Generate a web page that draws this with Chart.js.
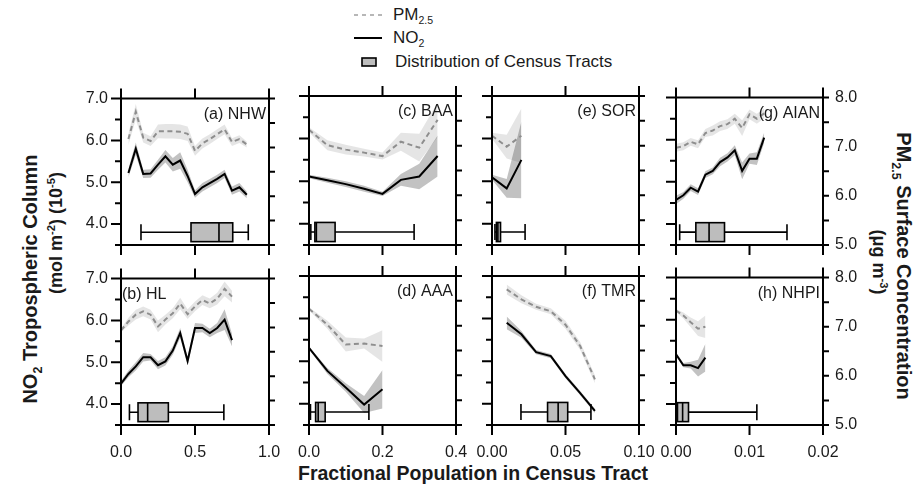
<!DOCTYPE html>
<html>
<head>
<meta charset="utf-8">
<script src="https://cdn.jsdelivr.net/npm/chart.js@4.4.1/dist/chart.umd.min.js"></script>
<style>
  body { margin: 0; background: #fff; }
  #page { position: relative; width: 918px; height: 489px; overflow: hidden; font-family: "Liberation Sans", Arial, sans-serif; color: #1a1a1a; }
  canvas.panel { position: absolute; }
  .txt { position: absolute; white-space: nowrap; }
  .legend { font-size: 17px; line-height: 18px; }
  .title { font-weight: bold; line-height: 22px; }
  .rot-l { transform: translate(-50%, -50%) rotate(-90deg); }
  .rot-r { transform: translate(-50%, -50%) rotate(90deg); }
  sub, sup { font-size: 62%; line-height: 0; }
</style>
</head>
<body>
<div id="page">
  <svg class="txt" style="left:350px;top:7px" width="40" height="64">
    <line x1="4" y1="8" x2="35" y2="8" stroke="#a0a0a0" stroke-width="1.6" stroke-dasharray="4 4"/>
    <line x1="4" y1="31" x2="32" y2="31" stroke="#000" stroke-width="2"/>
    <rect x="12" y="51" width="14" height="8" fill="#bdbdbd" stroke="#000" stroke-width="1.6"/>
  </svg>
  <div class="txt legend" style="left:393px;top:6px">PM<sub>2.5</sub></div>
  <div class="txt legend" style="left:393px;top:29px">NO<sub>2</sub></div>
  <div class="txt legend" style="left:395px;top:53px">Distribution of Census Tracts</div>

  <div class="txt title rot-l" style="left:30px;top:279px;font-size:20px">NO<sub>2</sub> Tropospheric Column</div>
  <div class="txt title rot-l" style="left:56px;top:233px;font-size:18px">(mol m<sup>-2</sup>) (10<sup>-5</sup>)</div>
  <div class="txt title rot-r" style="left:904px;top:266px;font-size:20px">PM<sub>2.5</sub> Surface Concentration</div>
  <div class="txt title rot-r" style="left:879px;top:262px;font-size:18px">(μg m<sup>-3</sup>)</div>
  <div class="txt title" style="left:473px;top:462px;font-size:19.5px;transform:translateX(-50%)">Fractional Population in Census Tract</div>
</div>
<script>
// ---- data ----
const nhwX = [0.05, 0.10, 0.15, 0.20, 0.25, 0.30, 0.35, 0.40, 0.45, 0.50, 0.55, 0.60, 0.65, 0.70, 0.75, 0.80, 0.85];
const nhwNo2 = [5.22, 5.80, 5.20, 5.21, 5.42, 5.62, 5.42, 5.52, 5.15, 4.72, 4.88, 4.98, 5.08, 5.20, 4.80, 4.88, 4.70];
const nhwNo2Err = [0.10, 0.15, 0.10, 0.10, 0.12, 0.15, 0.16, 0.20, 0.15, 0.09, 0.10, 0.10, 0.10, 0.10, 0.10, 0.10, 0.08];
const nhwPm = [7.17, 7.73, 7.20, 7.13, 7.33, 7.33, 7.33, 7.32, 7.28, 6.93, 7.08, 7.17, 7.27, 7.37, 7.11, 7.17, 7.06];
const nhwPmErr = [0.12, 0.16, 0.10, 0.10, 0.14, 0.15, 0.15, 0.15, 0.15, 0.10, 0.10, 0.10, 0.10, 0.10, 0.08, 0.08, 0.06];
const nhwBox = [0.135, 0.473, 0.662, 0.755, 0.86];

const hlX = [0.00, 0.05, 0.10, 0.15, 0.20, 0.25, 0.30, 0.35, 0.40, 0.45, 0.50, 0.55, 0.60, 0.65, 0.70, 0.75];
const hlNo2 = [4.49, 4.72, 4.90, 5.12, 5.12, 4.93, 5.02, 5.28, 5.70, 5.03, 5.82, 5.82, 5.70, 5.82, 6.02, 5.53];
const hlNo2Err = [0.06, 0.08, 0.10, 0.10, 0.08, 0.10, 0.10, 0.10, 0.12, 0.10, 0.12, 0.10, 0.10, 0.12, 0.25, 0.15];
const hlPm = [6.94, 7.12, 7.26, 7.33, 7.26, 7.02, 7.16, 7.29, 7.49, 7.27, 7.43, 7.56, 7.49, 7.59, 7.79, 7.63];
const hlPmErr = [0.04, 0.08, 0.10, 0.10, 0.10, 0.12, 0.10, 0.10, 0.12, 0.10, 0.10, 0.10, 0.10, 0.12, 0.15, 0.12];
const hlBox = [0.057, 0.115, 0.18, 0.32, 0.695];

const baaX = [0.00, 0.05, 0.10, 0.15, 0.20, 0.25, 0.30, 0.35];
const baaNo2 = [5.11, 5.02, 4.93, 4.82, 4.70, 5.03, 5.11, 5.59];
const baaNo2Err = [0.04, 0.06, 0.07, 0.07, 0.05, 0.14, 0.30, 0.48];
const baaPm = [7.32, 7.01, 6.92, 6.86, 6.79, 7.08, 6.96, 7.52];
const baaPmErr = [0.05, 0.10, 0.10, 0.08, 0.07, 0.18, 0.28, 0.35];
const baaBox = [0.005, 0.016, 0.02, 0.071, 0.286];

const aaaX = [0.00, 0.05, 0.10, 0.15, 0.20];
const aaaNo2 = [5.31, 4.77, 4.38, 3.98, 4.34];
const aaaNo2Err = [0.03, 0.07, 0.10, 0.20, 0.45];
const aaaPm = [7.34, 7.02, 6.62, 6.64, 6.59];
const aaaPmErr = [0.03, 0.08, 0.14, 0.10, 0.32];
const aaaBox = [0.004, 0.018, 0.025, 0.044, 0.163];

const sorX = [0.00, 0.01, 0.02];
const sorNo2 = [5.09, 4.83, 5.50];
const sorNo2Err = [0.06, 0.22, 0.90];
const sorPm = [7.20, 6.98, 7.20];
const sorPmErr = [0.06, 0.24, 0.55];
const sorBox = [0.002, 0.003, 0.004, 0.0058, 0.0225];

const tmrX = [0.01, 0.02, 0.03, 0.04, 0.05, 0.06, 0.07];
const tmrNo2 = [5.90, 5.63, 5.21, 5.12, 4.65, 4.25, 3.83];
const tmrNo2Err = [0.15, 0.08, 0.05, 0.05, 0.05, 0.05, 0.05];
const tmrPm = [7.73, 7.53, 7.38, 7.29, 7.02, 6.59, 5.92];
const tmrPmErr = [0.10, 0.08, 0.06, 0.06, 0.08, 0.08, 0.08];
const tmrBox = [0.0197, 0.0378, 0.045, 0.0515, 0.0673];

const aianX = [0.000, 0.001, 0.002, 0.003, 0.004, 0.005, 0.006, 0.007, 0.008, 0.009, 0.010, 0.011, 0.012];
const aianNo2 = [4.57, 4.68, 4.86, 4.77, 5.17, 5.26, 5.47, 5.58, 5.75, 5.26, 5.55, 5.55, 6.05];
const aianNo2Err = [0.10, 0.08, 0.08, 0.08, 0.08, 0.08, 0.10, 0.10, 0.12, 0.20, 0.12, 0.15, 0.12];
const aianPm = [6.98, 7.01, 7.10, 7.05, 7.28, 7.33, 7.42, 7.46, 7.57, 7.38, 7.66, 7.57, 7.68];
const aianPmErr = [0.08, 0.08, 0.08, 0.08, 0.08, 0.10, 0.10, 0.10, 0.10, 0.16, 0.10, 0.10, 0.10];
const aianBox = [0.0005, 0.0027, 0.0045, 0.0066, 0.0151];

const nhpiX = [0.000, 0.001, 0.002, 0.003, 0.004];
const nhpiNo2 = [5.18, 4.92, 4.92, 4.85, 5.10];
const nhpiNo2Err = [0.04, 0.05, 0.08, 0.20, 0.33];
const nhpiPm = [7.33, 7.23, 7.09, 6.96, 7.00];
const nhpiPmErr = [0.03, 0.06, 0.10, 0.15, 0.23];
const nhpiBox = [0.0001, 0.0002, 0.0009, 0.0017, 0.011];

// axis ticks
const colMax = [1.0, 0.4, 0.1, 0.02];
const colTicks = [[0, 0.5, 1.0], [0, 0.2, 0.4], [0, 0.05, 0.1], [0, 0.01, 0.02]];
const colTickLabels = [['0.0', '0.5', '1.0'], ['0.0', '0.2', '0.4'], ['0.00', '0.05', '0.10'], ['0.00', '0.01', '0.02']];
const no2Ticks = [4, 5, 6, 7];
const no2TickLabels = ['4.0', '5.0', '6.0', '7.0'];
const pmTicks = [5, 6, 7, 8];
const pmTickLabels = ['5.0', '6.0', '7.0', '8.0'];

// ---- layout / style ----
const COL_LEFT = [121, 309, 492, 676];
const COL_W = [148, 147, 147, 147];
const ROW_TOP = [96, 276];
const PLOT_H = 149;
const ML = 60, MR = 50, MT = 20, MB = 40;
const BOX_TOP = 4.03, BOX_BOT = 3.58;
const PM_BAND = 'rgba(0,0,0,0.10)';
const NO2_BAND = 'rgba(0,0,0,0.24)';
const FONT = '"Liberation Sans", Arial, sans-serif';

Chart.defaults.font.family = FONT;

const panels = [
  { label: '(a) NHW', row: 0, col: 0, x: nhwX, no2: nhwNo2, no2Err: nhwNo2Err, pm: nhwPm, pmErr: nhwPmErr, box: nhwBox },
  { label: '(b) HL', row: 1, col: 0, x: hlX, no2: hlNo2, no2Err: hlNo2Err, pm: hlPm, pmErr: hlPmErr, box: hlBox, labelLeft: true },
  { label: '(c) BAA', row: 0, col: 1, x: baaX, no2: baaNo2, no2Err: baaNo2Err, pm: baaPm, pmErr: baaPmErr, box: baaBox },
  { label: '(d) AAA', row: 1, col: 1, x: aaaX, no2: aaaNo2, no2Err: aaaNo2Err, pm: aaaPm, pmErr: aaaPmErr, box: aaaBox },
  { label: '(e) SOR', row: 0, col: 2, x: sorX, no2: sorNo2, no2Err: sorNo2Err, pm: sorPm, pmErr: sorPmErr, box: sorBox },
  { label: '(f) TMR', row: 1, col: 2, x: tmrX, no2: tmrNo2, no2Err: tmrNo2Err, pm: tmrPm, pmErr: tmrPmErr, box: tmrBox },
  { label: '(g) AIAN', row: 0, col: 3, x: aianX, no2: aianNo2, no2Err: aianNo2Err, pm: aianPm, pmErr: aianPmErr, box: aianBox },
  { label: '(h) NHPI', row: 1, col: 3, x: nhpiX, no2: nhpiNo2, no2Err: nhpiNo2Err, pm: nhpiPm, pmErr: nhpiPmErr, box: nhpiBox }
];

// frame, outward ticks, boxplot and panel label
const decoPlugin = {
  id: 'deco',
  afterDatasetsDraw(chart, args, o) {
    const { ctx, scales: { x, y } } = chart;
    const [mn, q1, md, q3, mx] = o.box;
    const yt = y.getPixelForValue(BOX_TOP), yb = y.getPixelForValue(BOX_BOT);
    const ym = (yt + yb) / 2;
    const px = v => x.getPixelForValue(v);
    ctx.save();
    ctx.strokeStyle = '#000';
    ctx.lineWidth = 1.6;
    ctx.beginPath();
    ctx.moveTo(px(mn), ym); ctx.lineTo(px(q1), ym);
    ctx.moveTo(px(q3), ym); ctx.lineTo(px(mx), ym);
    ctx.moveTo(px(mn), yt + 1.5); ctx.lineTo(px(mn), yb - 1.5);
    ctx.moveTo(px(mx), yt + 1.5); ctx.lineTo(px(mx), yb - 1.5);
    ctx.stroke();
    ctx.fillStyle = '#bdbdbd';
    ctx.fillRect(px(q1), yt, px(q3) - px(q1), yb - yt);
    ctx.strokeRect(px(q1), yt, px(q3) - px(q1), yb - yt);
    ctx.beginPath();
    ctx.moveTo(px(md), yt); ctx.lineTo(px(md), yb);
    ctx.stroke();
    ctx.restore();
  },
  afterDraw(chart, args, o) {
    const { ctx, chartArea: a, scales: { x, y, y2 } } = chart;
    ctx.save();
    ctx.strokeStyle = '#000';
    ctx.lineWidth = 2;
    ctx.beginPath();
    ctx.rect(a.left, a.top, a.right - a.left, a.bottom - a.top);
    // top & bottom ticks
    o.xTicks.forEach(v => {
      const p = x.getPixelForValue(v);
      ctx.moveTo(p, a.bottom); ctx.lineTo(p, a.bottom + 10);
      ctx.moveTo(p, a.top); ctx.lineTo(p, a.top - 10);
    });
    // left ticks (NO2)
    for (let v = 3.5; v <= 7.001; v += 0.5) {
      const p = y.getPixelForValue(v);
      const len = Math.abs(v - Math.round(v)) < 0.01 ? 10 : 6;
      ctx.moveTo(a.left - len, p); ctx.lineTo(a.left, p);
    }
    // right ticks (PM2.5)
    for (let v = 5; v <= 8.001; v += 0.5) {
      const p = y2.getPixelForValue(v);
      ctx.moveTo(a.right, p); ctx.lineTo(a.right + 6, p);
    }
    ctx.stroke();
    ctx.fillStyle = '#1a1a1a';
    ctx.font = '16px ' + FONT;
    ctx.textBaseline = 'alphabetic';
    if (o.labelLeft) {
      ctx.textAlign = 'left';
      ctx.fillText(o.label, a.left + 1, a.top + 20);
    } else {
      ctx.textAlign = 'right';
      ctx.fillText(o.label, a.right - 3, a.top + 20);
    }
    ctx.restore();
  }
};

function pts(xs, ys, err, sign) {
  return xs.map((v, i) => ({ x: v, y: ys[i] + (err ? sign * err[i] : 0) }));
}

const page = document.getElementById('page');

panels.forEach(p => {
  const L = COL_LEFT[p.col], W = COL_W[p.col], T = ROW_TOP[p.row];
  const canvas = document.createElement('canvas');
  canvas.className = 'panel';
  canvas.width = W + ML + MR;
  canvas.height = PLOT_H + MT + MB;
  canvas.style.left = (L - ML) + 'px';
  canvas.style.top = (T - MT) + 'px';
  canvas.style.width = canvas.width + 'px';
  canvas.style.height = canvas.height + 'px';
  page.appendChild(canvas);

  const lineBase = { pointRadius: 0, tension: 0, borderWidth: 0, borderColor: 'transparent' };

  new Chart(canvas.getContext('2d'), {
    type: 'line',
    data: {
      datasets: [
        { ...lineBase, data: pts(p.x, p.pm, p.pmErr, 1), yAxisID: 'y2', fill: '+1', backgroundColor: PM_BAND, order: 3 },
        { ...lineBase, data: pts(p.x, p.pm, p.pmErr, -1), yAxisID: 'y2', fill: false, order: 3 },
        { ...lineBase, data: pts(p.x, p.no2, p.no2Err, 1), yAxisID: 'y', fill: '+1', backgroundColor: NO2_BAND, order: 2 },
        { ...lineBase, data: pts(p.x, p.no2, p.no2Err, -1), yAxisID: 'y', fill: false, order: 2 },
        { data: pts(p.x, p.pm), yAxisID: 'y2', borderColor: '#8e8e8e', borderWidth: 2, borderDash: [5, 3.5], pointRadius: 0, tension: 0, fill: false, order: 1 },
        { data: pts(p.x, p.no2), yAxisID: 'y', borderColor: '#000', borderWidth: 2, pointRadius: 0, tension: 0, fill: false, order: 0 }
      ]
    },
    options: {
      responsive: false,
      animation: false,
      devicePixelRatio: 1,
      events: [],
      layout: { autoPadding: false, padding: { top: MT, left: 0, right: 0, bottom: 0 } },
      plugins: {
        legend: { display: false },
        tooltip: { enabled: false },
        deco: { box: p.box, label: p.label, labelLeft: !!p.labelLeft, xTicks: colTicks[p.col] }
      },
      scales: {
        x: {
          type: 'linear', position: 'bottom', min: 0, max: colMax[p.col],
          afterFit: s => { s.height = MB; },
          afterBuildTicks: s => { s.ticks = colTicks[p.col].map(v => ({ value: v })); },
          grid: { display: false, drawTicks: false },
          border: { display: false },
          ticks: {
            display: p.row === 1, autoSkip: false, maxRotation: 0, padding: 18,
            color: '#1a1a1a', font: { size: 16 },
            callback: (v, i) => colTickLabels[p.col][i]
          }
        },
        y: {
          type: 'linear', position: 'left', min: 3.5, max: 7.0,
          afterFit: s => { s.width = ML; },
          afterBuildTicks: s => { s.ticks = no2Ticks.map(v => ({ value: v })); },
          grid: { display: false, drawTicks: false },
          border: { display: false },
          ticks: {
            display: p.col === 0, padding: 13, color: '#1a1a1a', font: { size: 16 },
            callback: (v, i) => no2TickLabels[i]
          }
        },
        y2: {
          type: 'linear', position: 'right', min: 5.0, max: 8.0,
          afterFit: s => { s.width = MR; },
          afterBuildTicks: s => { s.ticks = pmTicks.map(v => ({ value: v })); },
          grid: { display: false, drawTicks: false },
          border: { display: false },
          ticks: {
            display: p.col === 3, padding: 12, color: '#1a1a1a', font: { size: 16 },
            callback: (v, i) => pmTickLabels[i]
          }
        }
      }
    },
    plugins: [decoPlugin]
  });
});
</script>
</body>
</html>
